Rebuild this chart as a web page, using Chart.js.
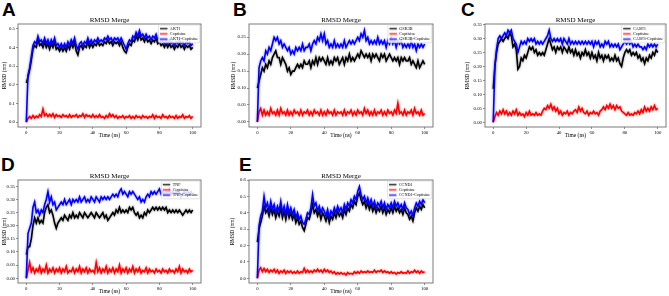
<!DOCTYPE html>
<html><head><meta charset="utf-8">
<script src="https://cdn.jsdelivr.net/npm/chart.js@4"></script>
<style>
html,body{margin:0;padding:0;background:#fff;width:669px;height:296px;overflow:hidden;position:relative}
.pl{position:absolute;font:bold 19px "Liberation Sans",Arial,sans-serif;color:#000;line-height:1}
canvas{position:absolute}
</style></head><body>
<div class="pl" style="left:2px;top:0px">A</div>
<div class="pl" style="left:233px;top:0px">B</div>
<div class="pl" style="left:461px;top:0px">C</div>
<div class="pl" style="left:1px;top:155px">D</div>
<div class="pl" style="left:239px;top:155px">E</div>
<canvas id="cA"></canvas><canvas id="cB"></canvas><canvas id="cC"></canvas><canvas id="cD"></canvas><canvas id="cE"></canvas>
<script>
// ---------- DATA ----------
const timeNs = [0,1,2,3,4,5,6,7,8,9,10,11,12,13,14,15,16,17,18,19,20,21,22,23,24,25,26,27,28,29,30,31,32,33,34,35,36,37,38,39,40,41,42,43,44,45,46,47,48,49,50,51,52,53,54,55,56,57,58,59,60,61,62,63,64,65,66,67,68,69,70,71,72,73,74,75,76,77,78,79,80,81,82,83,84,85,86,87,88,89,90,91,92,93,94,95,96,97,98,99,100];
const xTicks = [0,20,40,60,80,100];

// Panel A
const namesA = ["AKT1","Coptisine","AKT1-Coptisine"];
const aktProtein = [
0.21,0.24,0.28,0.33,0.39,0.41,0.40,0.44,0.41,0.42,
0.40,0.43,0.40,0.42,0.39,0.42,0.40,0.43,0.39,0.40,
0.38,0.40,0.38,0.40,0.38,0.41,0.39,0.42,0.40,0.43,
0.38,0.36,0.40,0.41,0.39,0.41,0.40,0.43,0.40,0.42,
0.40,0.42,0.41,0.43,0.41,0.42,0.41,0.43,0.42,0.44,
0.42,0.43,0.41,0.43,0.42,0.43,0.41,0.43,0.40,0.38,
0.37,0.40,0.42,0.41,0.44,0.43,0.46,0.44,0.47,0.44,
0.45,0.43,0.45,0.43,0.44,0.42,0.44,0.43,0.45,0.42,
0.43,0.41,0.42,0.40,0.42,0.40,0.42,0.40,0.41,0.39,
0.41,0.40,0.42,0.40,0.41,0.39,0.41,0.40,0.41,0.39,
0.40];
const aktLigand = [
0.000,0.020,0.030,0.020,0.035,0.022,0.032,0.025,0.040,0.030,
0.070,0.035,0.045,0.030,0.042,0.030,0.045,0.025,0.040,0.030,
0.035,0.025,0.040,0.030,0.035,0.025,0.040,0.025,0.035,0.030,
0.040,0.025,0.035,0.030,0.045,0.025,0.040,0.030,0.035,0.025,
0.040,0.025,0.035,0.025,0.040,0.025,0.030,0.020,0.035,0.025,
0.045,0.030,0.040,0.025,0.035,0.020,0.030,0.025,0.035,0.020,
0.030,0.025,0.035,0.020,0.030,0.020,0.035,0.025,0.030,0.020,
0.035,0.025,0.030,0.020,0.030,0.025,0.040,0.020,0.035,0.025,
0.030,0.020,0.040,0.025,0.030,0.020,0.035,0.025,0.030,0.020,
0.035,0.020,0.030,0.025,0.040,0.020,0.030,0.025,0.035,0.020,
0.030];
const aktComplex = [
0.00,0.25,0.29,0.35,0.41,0.43,0.42,0.46,0.43,0.44,
0.42,0.45,0.42,0.44,0.41,0.44,0.42,0.45,0.41,0.42,
0.40,0.42,0.40,0.42,0.40,0.43,0.41,0.44,0.42,0.45,
0.41,0.39,0.42,0.43,0.41,0.43,0.42,0.45,0.42,0.44,
0.42,0.44,0.43,0.45,0.43,0.44,0.43,0.45,0.44,0.46,
0.44,0.45,0.43,0.45,0.44,0.45,0.43,0.45,0.43,0.41,
0.39,0.42,0.44,0.43,0.46,0.45,0.48,0.46,0.49,0.46,
0.47,0.45,0.47,0.45,0.46,0.44,0.46,0.45,0.47,0.44,
0.45,0.43,0.44,0.42,0.44,0.42,0.44,0.42,0.43,0.41,
0.43,0.42,0.44,0.42,0.43,0.41,0.43,0.42,0.43,0.41,
0.42];
const yTicksA = [0.0,0.1,0.2,0.3,0.4,0.5];
const yLabelsA = ["0.0","0.1","0.2","0.3","0.4","0.5"];

// Panel B
const namesB = ["GSK3B","Coptisine","GSK3B-Coptisine"];
const gskProtein = [
0.10,0.12,0.14,0.16,0.15,0.17,0.16,0.18,0.17,0.19,
0.20,0.21,0.19,0.19,0.17,0.19,0.18,0.17,0.15,0.16,
0.14,0.15,0.15,0.16,0.17,0.16,0.17,0.16,0.18,0.17,
0.17,0.18,0.16,0.18,0.17,0.19,0.17,0.19,0.18,0.19,
0.18,0.17,0.19,0.17,0.18,0.17,0.19,0.18,0.19,0.17,
0.18,0.19,0.17,0.19,0.18,0.20,0.18,0.19,0.18,0.19,
0.20,0.19,0.21,0.20,0.19,0.20,0.19,0.20,0.18,0.20,
0.19,0.20,0.19,0.18,0.20,0.19,0.20,0.18,0.19,0.20,
0.19,0.18,0.19,0.18,0.19,0.17,0.19,0.18,0.19,0.18,
0.18,0.19,0.17,0.18,0.17,0.16,0.18,0.16,0.17,0.18,
0.17];
const gskLigand = [
0.000,0.030,0.040,0.020,0.035,0.020,0.030,0.020,0.040,0.025,
0.030,0.020,0.035,0.020,0.040,0.025,0.030,0.020,0.035,0.020,
0.030,0.020,0.035,0.025,0.030,0.020,0.035,0.020,0.030,0.025,
0.035,0.020,0.030,0.020,0.035,0.025,0.030,0.020,0.035,0.020,
0.030,0.020,0.035,0.025,0.030,0.020,0.035,0.020,0.030,0.025,
0.030,0.020,0.035,0.020,0.030,0.025,0.035,0.020,0.030,0.020,
0.035,0.025,0.030,0.020,0.040,0.025,0.035,0.020,0.030,0.020,
0.035,0.020,0.030,0.025,0.035,0.020,0.030,0.020,0.035,0.025,
0.030,0.020,0.035,0.025,0.055,0.025,0.030,0.020,0.035,0.020,
0.030,0.025,0.035,0.020,0.040,0.025,0.030,0.020,0.035,0.020,
0.025];
const gskComplex = [
0.00,0.16,0.18,0.19,0.18,0.21,0.20,0.22,0.21,0.23,
0.25,0.24,0.25,0.23,0.24,0.22,0.23,0.22,0.21,0.22,
0.20,0.21,0.20,0.22,0.21,0.22,0.21,0.23,0.21,0.22,
0.22,0.23,0.21,0.23,0.24,0.23,0.25,0.24,0.26,0.24,
0.26,0.23,0.24,0.22,0.23,0.22,0.24,0.22,0.23,0.22,
0.23,0.22,0.24,0.22,0.23,0.24,0.23,0.24,0.23,0.24,
0.25,0.24,0.26,0.25,0.27,0.24,0.25,0.23,0.24,0.23,
0.24,0.23,0.25,0.23,0.24,0.23,0.24,0.22,0.24,0.23,
0.25,0.23,0.24,0.22,0.24,0.23,0.24,0.22,0.23,0.22,
0.23,0.22,0.24,0.22,0.23,0.21,0.23,0.22,0.23,0.22,
0.23];
const yTicksB = [0.00,0.05,0.10,0.15,0.20,0.25];
const yLabelsB = ["0.00","0.05","0.10","0.15","0.20","0.25"];

// Panel C
const namesC = ["CASP3","Coptisine","CASP3-Coptisine"];
const caspProtein = [
0.12,0.20,0.25,0.28,0.29,0.30,0.29,0.30,0.31,0.30,
0.32,0.31,0.27,0.28,0.26,0.19,0.20,0.23,0.22,0.24,
0.23,0.25,0.27,0.26,0.27,0.25,0.26,0.24,0.25,0.24,
0.25,0.24,0.26,0.28,0.30,0.28,0.26,0.27,0.25,0.27,
0.26,0.27,0.25,0.27,0.26,0.25,0.27,0.25,0.26,0.24,
0.26,0.24,0.25,0.23,0.25,0.24,0.26,0.24,0.25,0.23,
0.25,0.23,0.24,0.22,0.25,0.23,0.24,0.22,0.24,0.23,
0.24,0.22,0.23,0.22,0.24,0.22,0.23,0.21,0.20,0.23,
0.25,0.26,0.25,0.26,0.24,0.25,0.24,0.25,0.23,0.24,
0.22,0.23,0.21,0.23,0.22,0.24,0.23,0.25,0.24,0.26,
0.25];
const caspLigand = [
0.000,0.020,0.035,0.025,0.040,0.030,0.045,0.030,0.040,0.025,
0.035,0.025,0.040,0.030,0.045,0.025,0.035,0.025,0.030,0.020,
0.035,0.025,0.040,0.025,0.030,0.025,0.035,0.025,0.030,0.025,
0.040,0.050,0.045,0.060,0.050,0.065,0.045,0.055,0.040,0.050,
0.030,0.040,0.025,0.035,0.030,0.040,0.025,0.035,0.030,0.040,
0.045,0.035,0.055,0.040,0.050,0.035,0.030,0.040,0.025,0.035,
0.030,0.040,0.030,0.035,0.025,0.040,0.045,0.055,0.045,0.060,
0.050,0.065,0.050,0.060,0.045,0.060,0.050,0.055,0.040,0.035,
0.030,0.025,0.035,0.025,0.030,0.025,0.035,0.030,0.040,0.030,
0.045,0.035,0.055,0.040,0.050,0.040,0.055,0.045,0.060,0.045,
0.050];
const caspComplex = [
0.00,0.20,0.26,0.30,0.31,0.30,0.31,0.32,0.31,0.33,
0.32,0.33,0.30,0.29,0.28,0.25,0.27,0.29,0.28,0.29,
0.28,0.30,0.29,0.30,0.29,0.30,0.28,0.29,0.28,0.29,
0.28,0.29,0.30,0.31,0.33,0.30,0.29,0.30,0.29,0.30,
0.29,0.30,0.28,0.30,0.29,0.28,0.30,0.28,0.29,0.28,
0.29,0.28,0.29,0.28,0.29,0.28,0.29,0.28,0.29,0.28,
0.29,0.27,0.29,0.28,0.29,0.27,0.28,0.27,0.29,0.28,
0.29,0.27,0.28,0.27,0.28,0.27,0.28,0.26,0.27,0.28,
0.29,0.28,0.29,0.28,0.29,0.27,0.28,0.27,0.28,0.27,
0.27,0.26,0.27,0.26,0.28,0.27,0.28,0.27,0.28,0.27,
0.28];
const yTicksC = [0.00,0.05,0.10,0.15,0.20,0.25,0.30,0.35];
const yLabelsC = ["0.00","0.05","0.10","0.15","0.20","0.25","0.30","0.35"];

// Panel D
const namesD = ["TNF","Coptisine","TNF-Coptisine"];
const tnfProtein = [
0.09,0.12,0.12,0.15,0.20,0.23,0.21,0.23,0.21,0.22,
0.21,0.25,0.27,0.28,0.25,0.26,0.24,0.21,0.19,0.21,
0.22,0.23,0.22,0.24,0.23,0.22,0.24,0.23,0.25,0.23,
0.24,0.23,0.25,0.24,0.23,0.25,0.24,0.23,0.24,0.25,
0.24,0.23,0.25,0.24,0.23,0.24,0.25,0.23,0.24,0.22,
0.23,0.24,0.25,0.24,0.26,0.25,0.27,0.25,0.26,0.25,
0.26,0.25,0.27,0.26,0.27,0.25,0.24,0.25,0.23,0.24,
0.23,0.25,0.24,0.26,0.25,0.26,0.27,0.26,0.27,0.26,
0.27,0.26,0.27,0.26,0.27,0.25,0.26,0.25,0.26,0.25,
0.26,0.25,0.26,0.25,0.24,0.25,0.26,0.25,0.26,0.25,
0.26];
const tnfLigand = [
0.000,0.030,0.060,0.025,0.040,0.020,0.035,0.025,0.045,0.020,
0.035,0.025,0.050,0.020,0.035,0.025,0.040,0.020,0.035,0.025,
0.040,0.020,0.035,0.025,0.045,0.020,0.030,0.025,0.040,0.020,
0.035,0.025,0.045,0.020,0.035,0.025,0.040,0.020,0.035,0.025,
0.030,0.020,0.060,0.025,0.040,0.020,0.035,0.025,0.045,0.020,
0.035,0.025,0.040,0.020,0.035,0.025,0.050,0.020,0.035,0.025,
0.040,0.020,0.035,0.025,0.045,0.020,0.035,0.025,0.040,0.020,
0.030,0.025,0.040,0.020,0.035,0.025,0.030,0.020,0.035,0.025,
0.030,0.020,0.035,0.025,0.030,0.020,0.035,0.025,0.030,0.020,
0.035,0.025,0.045,0.020,0.035,0.025,0.030,0.020,0.035,0.025,
0.030];
const tnfComplex = [
0.00,0.17,0.19,0.21,0.27,0.29,0.25,0.26,0.24,0.26,
0.25,0.28,0.30,0.33,0.29,0.31,0.28,0.29,0.26,0.27,
0.28,0.29,0.28,0.30,0.28,0.29,0.30,0.28,0.30,0.29,
0.30,0.29,0.31,0.29,0.30,0.31,0.29,0.30,0.29,0.31,
0.30,0.29,0.31,0.30,0.29,0.31,0.30,0.31,0.30,0.31,
0.30,0.31,0.32,0.31,0.32,0.31,0.33,0.34,0.32,0.33,
0.32,0.31,0.33,0.32,0.33,0.32,0.31,0.30,0.31,0.29,
0.30,0.29,0.31,0.32,0.31,0.33,0.32,0.33,0.32,0.33,
0.34,0.32,0.33,0.32,0.33,0.32,0.34,0.32,0.33,0.32,
0.33,0.32,0.33,0.31,0.32,0.33,0.32,0.33,0.32,0.33,
0.32];
const yTicksD = [0.00,0.05,0.10,0.15,0.20,0.25,0.30,0.35];
const yLabelsD = ["0.00","0.05","0.10","0.15","0.20","0.25","0.30","0.35"];

// Panel E
const namesE = ["CCND1","Coptisine","CCND1-Coptisine"];
const ccnProtein = [
0.22,0.30,0.34,0.38,0.44,0.40,0.42,0.38,0.43,0.39,
0.42,0.37,0.41,0.38,0.43,0.37,0.41,0.36,0.42,0.37,
0.40,0.36,0.39,0.34,0.37,0.33,0.35,0.31,0.29,0.33,
0.37,0.36,0.40,0.45,0.40,0.42,0.38,0.41,0.36,0.40,
0.38,0.35,0.39,0.34,0.38,0.36,0.40,0.37,0.41,0.38,
0.40,0.37,0.42,0.39,0.43,0.41,0.45,0.43,0.47,0.45,
0.50,0.52,0.48,0.45,0.47,0.43,0.46,0.42,0.45,0.41,
0.44,0.40,0.43,0.41,0.44,0.40,0.43,0.39,0.42,0.40,
0.43,0.40,0.44,0.41,0.43,0.40,0.42,0.39,0.43,0.40,
0.39,0.36,0.38,0.35,0.40,0.43,0.41,0.44,0.42,0.45,
0.43];
const ccnLigand = [
0.000,0.050,0.065,0.040,0.060,0.040,0.055,0.035,0.050,0.040,
0.055,0.035,0.050,0.030,0.045,0.035,0.050,0.030,0.045,0.035,
0.045,0.030,0.040,0.030,0.045,0.030,0.040,0.035,0.060,0.035,
0.050,0.035,0.045,0.035,0.050,0.040,0.055,0.040,0.050,0.035,
0.055,0.040,0.050,0.035,0.045,0.030,0.040,0.025,0.035,0.025,
0.035,0.025,0.030,0.020,0.035,0.025,0.030,0.025,0.040,0.030,
0.040,0.030,0.045,0.035,0.040,0.035,0.045,0.035,0.040,0.035,
0.050,0.035,0.045,0.040,0.050,0.035,0.045,0.035,0.040,0.030,
0.040,0.030,0.035,0.025,0.035,0.030,0.040,0.030,0.035,0.030,
0.045,0.030,0.040,0.035,0.050,0.035,0.045,0.030,0.045,0.035,
0.040];
const ccnComplex = [
0.00,0.32,0.38,0.41,0.50,0.43,0.46,0.41,0.47,0.42,
0.45,0.40,0.44,0.41,0.47,0.40,0.44,0.39,0.45,0.40,
0.43,0.39,0.42,0.37,0.40,0.36,0.38,0.34,0.33,0.36,
0.40,0.39,0.43,0.51,0.44,0.46,0.41,0.44,0.40,0.43,
0.41,0.38,0.42,0.37,0.41,0.39,0.43,0.40,0.44,0.41,
0.43,0.40,0.45,0.42,0.46,0.44,0.48,0.46,0.50,0.48,
0.53,0.56,0.51,0.48,0.50,0.46,0.49,0.45,0.48,0.44,
0.47,0.43,0.46,0.44,0.47,0.43,0.46,0.42,0.45,0.43,
0.46,0.43,0.47,0.44,0.46,0.43,0.45,0.42,0.46,0.43,
0.42,0.39,0.41,0.38,0.43,0.46,0.44,0.47,0.45,0.48,
0.46];
const yTicksE = [0.0,0.1,0.2,0.3,0.4,0.5,0.6];
const yLabelsE = ["0.0","0.1","0.2","0.3","0.4","0.5","0.6"];

// ---------- STYLE / LAYOUT ----------
const SERIF = '"Liberation Serif","DejaVu Serif",serif';
const LINE_COLORS = ['#000000','#ff0000','#0000ff'];
const PATCH_COLORS = ['rgba(0,0,0,0.22)','rgba(255,0,0,0.22)','rgba(0,0,255,0.22)'];
const HALO_COLORS = ['rgba(0,0,0,0.45)','rgba(255,0,0,0.45)','rgba(0,0,255,0.45)'];
const LINE_WIDTHS = [1.6,1.6,1.6];
const DRAW_ORDER = [2,1,0];
Chart.defaults.font.family = SERIF;
Chart.defaults.color = '#000';

const haloPlugin = {
  id:'halo',
  beforeDatasetDraw(chart, args){
    const ctx = chart.ctx;
    ctx.save();
    ctx.shadowColor = HALO_COLORS[args.index];
    ctx.shadowBlur = 2.5;
  },
  afterDatasetDraw(chart){ chart.ctx.restore(); }
};

const framePlugin = {
  id:'frameLegend',
  afterDatasetsDraw(chart){
    const a = chart.chartArea, ctx = chart.ctx;
    ctx.save();
    ctx.strokeStyle = '#6e6e6e'; ctx.lineWidth = 0.9;
    ctx.strokeRect(a.left, a.top, a.right - a.left, a.bottom - a.top);
    const ds = chart.data.datasets;
    ctx.font = '4.2px ' + SERIF;
    let tw = 0; ds.forEach(d => { tw = Math.max(tw, ctx.measureText(d.label).width); });
    const padL = 1.6, hl = 7.4, gap = 2.4, rowH = 5.2;
    const w = padL + hl + gap + tw + 1.8, h = rowH * ds.length + 2.2;
    const x0 = a.right - w - 1.2, y0 = a.top + 1.0;
    ctx.fillStyle = 'rgba(255,255,255,0.85)';
    ctx.strokeStyle = '#cfcfcf'; ctx.lineWidth = 0.6;
    ctx.beginPath();
    if (ctx.roundRect) ctx.roundRect(x0, y0, w, h, 1.2); else ctx.rect(x0, y0, w, h);
    ctx.fill(); ctx.stroke();
    ds.forEach((d, i) => {
      const cy = y0 + 1.1 + rowH * (i + 0.5);
      ctx.fillStyle = PATCH_COLORS[i];
      ctx.fillRect(x0 + padL, cy - 1.6, hl, 3.2);
      ctx.strokeStyle = d.borderColor; ctx.lineWidth = 0.8;
      ctx.beginPath(); ctx.moveTo(x0 + padL, cy); ctx.lineTo(x0 + padL + hl, cy); ctx.stroke();
      ctx.fillStyle = '#000'; ctx.textBaseline = 'middle'; ctx.textAlign = 'left';
      ctx.fillText(d.label, x0 + padL + hl + gap, cy);
    });
    ctx.restore();
  }
};

function makeChart(p){
  const cv = document.getElementById(p.id);
  cv.width = p.cw; cv.height = p.ch;
  cv.style.left = p.cx + 'px'; cv.style.top = p.cy + 'px';
  cv.style.width = p.cw + 'px'; cv.style.height = p.ch + 'px';
  const yW = p.box.l - p.cx;
  const xH = (p.cy + p.ch) - p.box.b;
  const rP = (p.cx + p.cw) - p.box.r;
  const tPadTop = p.titleY - 3.5 - p.cy;
  const tPadBot = (p.box.t - p.cy) - 7 - tPadTop;
  const xtPadBot = (p.cy + p.ch) - p.xTitleY - 3.3;
  const ytPad = p.yTitleX - p.cx - 3.3;
  new Chart(cv, {
    type:'line',
    data:{
      datasets: p.series.map((s, i) => ({
        label: p.names[i],
        data: s.map((v, k) => ({x: timeNs[k], y: v})),
        borderColor: LINE_COLORS[i],
        borderWidth: LINE_WIDTHS[i],
        borderJoinStyle: 'miter',
        pointRadius: 0,
        tension: 0,
        fill: false,
        order: DRAW_ORDER[i]
      }))
    },
    options:{
      responsive:false, animation:false, devicePixelRatio:1,
      events:[],
      layout:{padding:{left:0, right:rP, top:0, bottom:0}},
      plugins:{
        legend:{display:false}, tooltip:{enabled:false},
        title:{display:true, text:'RMSD Merge', fullSize:false, color:'#000',
          font:{family:SERIF, size:7, weight:'normal', lineHeight:1},
          padding:{top:tPadTop, bottom:tPadBot}}
      },
      scales:{
        x:{
          type:'linear', position:'bottom', min:-5, max:105,
          afterBuildTicks: s => { s.ticks = xTicks.map(v => ({value:v})); },
          afterFit: s => { s.height = xH; },
          ticks:{font:{family:SERIF, size:4.8}, color:'#000', padding:0.5, maxRotation:0, autoSkip:false,
                 callback: v => String(v)},
          grid:{display:true, drawOnChartArea:false, drawTicks:true, tickLength:2, color:'#444', lineWidth:0.6},
          border:{display:false},
          title:{display:true, text:'Time (ns)', color:'#000', font:{family:SERIF, size:5.5, lineHeight:1.2},
                 padding:{top:0, bottom:xtPadBot}}
        },
        y:{
          type:'linear', position:'left', min:p.yMin, max:p.yMax,
          afterBuildTicks: s => { s.ticks = p.yTicks.map(v => ({value:v})); },
          afterFit: s => { s.width = yW; },
          ticks:{font:{family:SERIF, size:4.8}, color:'#000', padding:1, autoSkip:false,
                 callback: (v, i) => p.yLabels[i]},
          grid:{display:true, drawOnChartArea:false, drawTicks:true, tickLength:2, color:'#444', lineWidth:0.6},
          border:{display:false},
          title:{display:true, text:'RMSD (nm)', color:'#000', font:{family:SERIF, size:5.5, lineHeight:1.2},
                 padding:{top:ytPad, bottom:0}}
        }
      }
    },
    plugins:[haloPlugin, framePlugin]
  });
}

makeChart({id:'cA', cx:0, cy:10, cw:206, ch:136, box:{l:18, r:201, t:24, b:127},
  titleY:20, xTitleY:135.5, yTitleX:4.7, yMin:-0.026, yMax:0.525,
  names:namesA, series:[aktProtein, aktLigand, aktComplex], yTicks:yTicksA, yLabels:yLabelsA});
makeChart({id:'cB', cx:229, cy:10, cw:208, ch:136, box:{l:249, r:433, t:24, b:127},
  titleY:20, xTitleY:135.5, yTitleX:233.5, yMin:-0.015, yMax:0.289,
  names:namesB, series:[gskProtein, gskLigand, gskComplex], yTicks:yTicksB, yLabels:yLabelsB});
makeChart({id:'cC', cx:463, cy:10, cw:206, ch:136, box:{l:485, r:666, t:24, b:127},
  titleY:20, xTitleY:135.5, yTitleX:468, yMin:-0.017, yMax:0.352,
  names:namesC, series:[caspProtein, caspLigand, caspComplex], yTicks:yTicksC, yLabels:yLabelsC});
makeChart({id:'cD', cx:0, cy:166, cw:206, ch:130, box:{l:18, r:201, t:180, b:283},
  titleY:176, xTitleY:292, yTitleX:4.5, yMin:-0.018, yMax:0.374,
  names:namesD, series:[tnfProtein, tnfLigand, tnfComplex], yTicks:yTicksD, yLabels:yLabelsD});
makeChart({id:'cE', cx:229, cy:166, cw:208, ch:130, box:{l:249, r:433, t:180, b:283},
  titleY:176, xTitleY:292, yTitleX:233, yMin:-0.029, yMax:0.6,
  names:namesE, series:[ccnProtein, ccnLigand, ccnComplex], yTicks:yTicksE, yLabels:yLabelsE});
</script>
</body></html>
